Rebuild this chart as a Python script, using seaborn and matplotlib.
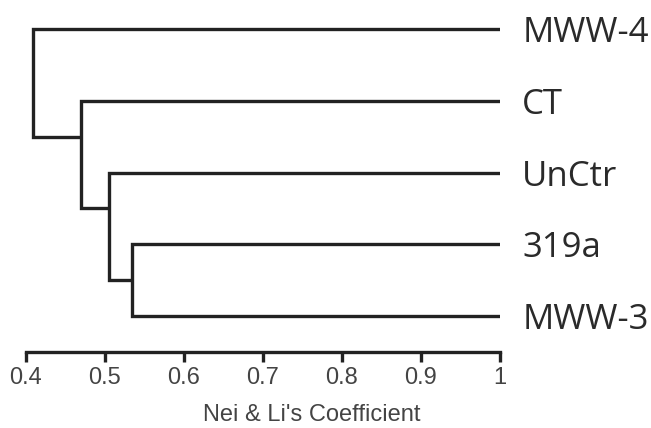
import matplotlib
matplotlib.use("Agg")
import matplotlib.pyplot as plt
import pandas as pd
import seaborn as sns

# leaves, top to bottom
leaves = ["MWW-4", "CT", "UnCtr", "319a", "MWW-3"]
# merges: (upper child, lower child, coefficient, node row)
# children are leaf names or node ids "n0", "n1", ...
merge_upper = ["319a", "UnCtr", "CT", "MWW-4"]
merge_lower = ["MWW-3", "n0", "n1", "n2"]
merge_height = [0.535, 0.505, 0.47, 0.41]
merge_row = [3.5, 2.5, 1.5, 0.75]

xticks = [0.4, 0.5, 0.6, 0.7, 0.8, 0.9, 1.0]
xtick_labels = ["0.4", "0.5", "0.6", "0.7", "0.8", "0.9", "1"]

# ---------------------------------------------------------------------------
# build dendrogram segments
# ---------------------------------------------------------------------------
pos = {name: (1.0, i) for i, name in enumerate(leaves)}
rows = []
for k, (a, b, h, r) in enumerate(zip(merge_upper, merge_lower, merge_height, merge_row)):
    xa, ya = pos[a]
    xb, yb = pos[b]
    pts = [(xa, ya), (h, ya), (h, yb), (xb, yb)]
    for x, y in pts:
        rows.append({"seg": k, "x": x, "y": y})
    pos[f"n{k}"] = (h, r)
seg = pd.DataFrame(rows)

sns.set_style("white")
plt.rcParams["font.family"] = ["Liberation Sans", "DejaVu Sans"]

fig = plt.figure(figsize=(6.51, 4.28), dpi=100)
ax = fig.add_axes([0.0392, 0.1776, 0.7289, 0.8049])

sns.lineplot(data=seg, x="x", y="y", units="seg", estimator=None, sort=False,
             color="#222222", linewidth=2.4, ax=ax, legend=False)
for line in ax.lines:
    line.set_solid_joinstyle("miter")
    line.set_solid_capstyle("butt")

ax.set_xlim(0.4, 1.0)
ax.set_ylim(4.5, -0.3)

for s in ["top", "left", "right"]:
    ax.spines[s].set_visible(False)
ax.spines["bottom"].set_linewidth(2.4)
ax.spines["bottom"].set_color("#222222")

ax.set_xticks(xticks)
ax.set_xticklabels(xtick_labels, fontsize=17, color="#444444")
ax.tick_params(axis="x", bottom=True, direction="out", length=7, width=2.4,
               color="#222222", pad=4)

ax.yaxis.tick_right()
ax.set_yticks(range(len(leaves)))
ax.set_yticklabels(leaves, fontsize=25, color="#2a2a2a", family=["Open Sans", "DejaVu Sans"])
ax.tick_params(axis="y", length=0, pad=16)

ax.set_xlabel("Nei & Li's Coefficient", fontsize=17, color="#444444")
ax.xaxis.set_label_coords(0.604, -0.15)
ax.set_ylabel("")

fig.savefig("out.png", dpi=100)
